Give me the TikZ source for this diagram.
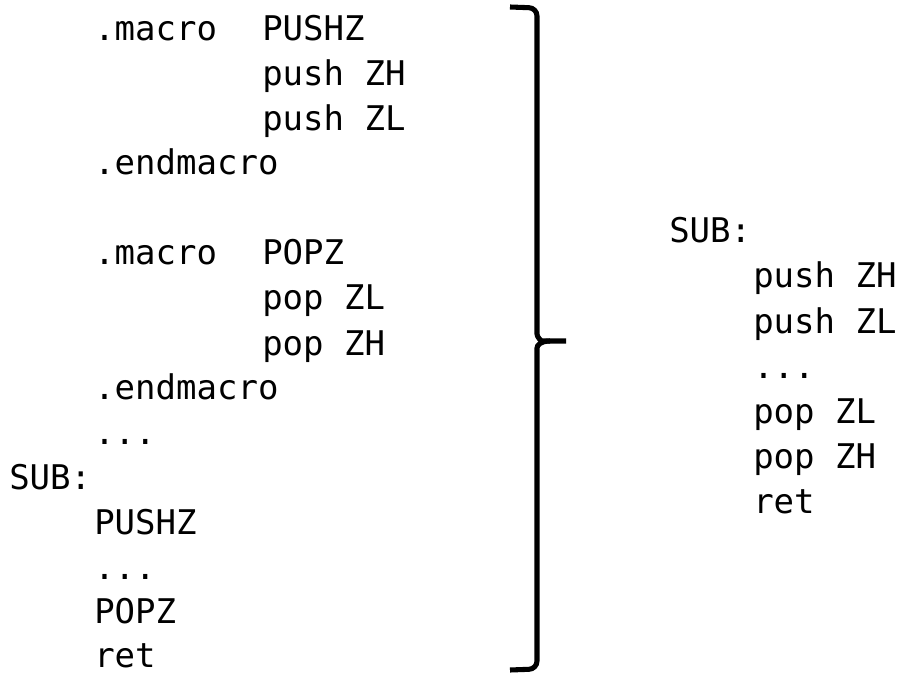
\documentclass[tikz,border=0pt]{standalone}
\usepackage{fontspec}
\setmonofont{DejaVu Sans Mono}
\usepackage{tikz}

\tikzset{
  code/.style={anchor=base west,inner sep=0pt,font=\ttfamily\fontsize{25.5}{30}\selectfont},
  bracket/.style={line width=3.8pt,rounded corners=6}
}

\begin{document}
\begin{tikzpicture}[x=0.75pt,y=-0.75pt]
  \useasboundingbox (0,0) rectangle (902,673);
  % 左边: 宏定义和子程序
  \node[code] (mac1) at (94,41) {.macro};
  \node[code] (mname1) at (262,41) {PUSHZ};
  \node[code] (mpush1) at (262,86) {push ZH};
  \node[code] (mpush2) at (262,131) {push ZL};
  \node[code] (mend1) at (94,175) {.endmacro};
  \node[code] (mac2) at (94,265) {.macro};
  \node[code] (mname2) at (262,265) {POPZ};
  \node[code] (mpop1) at (262,310) {pop ZL};
  \node[code] (mpop2) at (262,355) {pop ZH};
  \node[code] (mend2) at (94,399) {.endmacro};
  \node[code] (ldots1) at (94,444) {...};
  \node[code] (lsub) at (9,489) {SUB:};
  \node[code] (lpush) at (94,534) {PUSHZ};
  \node[code] (ldots2) at (94,579) {...};
  \node[code] (lpop) at (94,623) {POPZ};
  \node[code] (lret) at (94,667) {ret};
  % 大括号, 尖端朝右
  \draw[bracket] (510,7) -- (537,8) -- (537,326)
    .. controls (537,337) and (541,341) .. (550,341) -- (566,341);
  \draw[bracket] (550,341) .. controls (541,341) and (537,345) .. (537,356)
    -- (537,669) -- (510,670);
  % 右边: 展开后的代码
  \node[code] (rsub) at (669,243) {SUB:};
  \node[code] (rpush1) at (753,288) {push ZH};
  \node[code] (rpush2) at (753,333) {push ZL};
  \node[code] (rdots) at (753,378) {...};
  \node[code] (rpop1) at (753,423) {pop ZL};
  \node[code] (rpop2) at (753,468) {pop ZH};
  \node[code] (rret) at (753,513) {ret};
\end{tikzpicture}
\end{document}
